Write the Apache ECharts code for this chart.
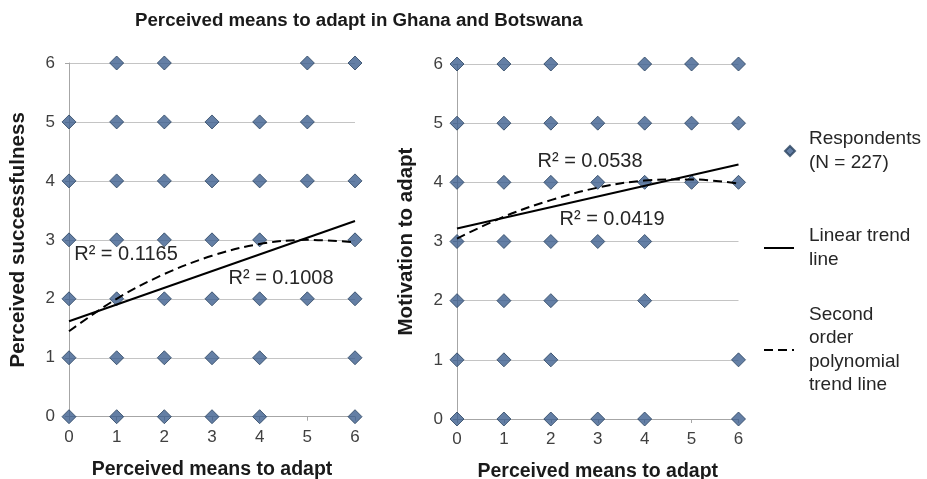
<!DOCTYPE html>
<html>
<head>
<meta charset="utf-8">
<script src="https://cdn.jsdelivr.net/npm/echarts@6/dist/echarts.min.js"></script>
<style>
  html, body { margin: 0; padding: 0; background: #ffffff; }
  #chart { width: 927px; height: 479px; }
</style>
</head>
<body>
<div id="chart"></div>
<script>
// Response scale shared by both panels (0 = lowest, 6 = highest)
const scaleTicks = [0, 1, 2, 3, 4, 5, 6];

// Ghana: perceived means to adapt (x) vs perceived successfulness (y)
const ghanaResponses = [
  [1, 6], [2, 6], [5, 6], [6, 6],
  [0, 5], [1, 5], [2, 5], [3, 5], [4, 5], [5, 5],
  [0, 4], [1, 4], [2, 4], [3, 4], [4, 4], [5, 4], [6, 4],
  [0, 3], [1, 3], [2, 3], [3, 3], [4, 3], [6, 3],
  [0, 2], [1, 2], [2, 2], [3, 2], [4, 2], [5, 2], [6, 2],
  [0, 1], [1, 1], [2, 1], [3, 1], [4, 1], [6, 1],
  [0, 0], [1, 0], [2, 0], [3, 0], [4, 0], [6, 0]
];
const ghanaLinear = [[0, 1.62], [6, 3.32]];
const ghanaPoly = [[0, 1.45], [1, 2.0], [2, 2.42], [3, 2.73], [4, 2.93], [5, 3.0], [6, 2.96]];
const ghanaR2 = { linear: 'R² = 0.1008', poly: 'R² = 0.1165' };

// Botswana: perceived means to adapt (x) vs motivation to adapt (y)
const botswanaResponses = [
  [0, 6], [1, 6], [2, 6], [4, 6], [5, 6], [6, 6],
  [0, 5], [1, 5], [2, 5], [3, 5], [4, 5], [5, 5], [6, 5],
  [0, 4], [1, 4], [2, 4], [3, 4], [4, 4], [5, 4], [6, 4],
  [0, 3], [1, 3], [2, 3], [3, 3], [4, 3],
  [0, 2], [1, 2], [2, 2], [4, 2],
  [0, 1], [1, 1], [2, 1], [6, 1],
  [0, 0], [1, 0], [2, 0], [3, 0], [4, 0], [6, 0]
];
const botswanaLinear = [[0, 3.22], [6, 4.3]];
const botswanaPoly = [[0, 3.05], [1, 3.42], [2, 3.7], [3, 3.91], [4, 4.03], [5, 4.05], [6, 3.98]];
const botswanaR2 = { linear: 'R² = 0.0419', poly: 'R² = 0.0538' };

const NAME_POINTS = 'Respondents (N = 227)';
const NAME_LINEAR = 'Linear trend line';
const NAME_POLY = 'Second order polynomial trend line';

const FONT = '"Liberation Sans", Arial, Helvetica, sans-serif';
const MARKER_FILL = '#3d5f8f';
const MARKER_EDGE = '#29425f';
const GRID_GRAY = '#c4c4c4';
const AXIS_GRAY = '#a6a6a6';

function xAxisFor(gridIndex, nameGap) {
  return {
    gridIndex, type: 'value', min: 0, max: 6, interval: 1,
    name: 'Perceived means to adapt', nameLocation: 'middle', nameGap,
    nameTextStyle: { fontFamily: FONT, fontSize: 19.5, fontWeight: 'bold', color: '#1a1a1a' },
    axisLine: { show: true, onZero: false, lineStyle: { color: AXIS_GRAY, width: 1 } },
    axisTick: { show: true, length: 4, lineStyle: { color: AXIS_GRAY } },
    axisLabel: { fontFamily: FONT, fontSize: 17, color: '#404040', margin: 12,
      formatter: v => scaleTicks.includes(v) ? String(v) : '' },
    splitLine: { show: false }
  };
}

function yAxisFor(gridIndex, name, nameGap) {
  return {
    gridIndex, type: 'value', min: 0, max: 6, interval: 1,
    name, nameLocation: 'middle', nameGap, nameRotate: 90,
    nameTextStyle: { fontFamily: FONT, fontSize: 20.5, fontWeight: 'bold', color: '#1a1a1a' },
    axisLine: { show: true, onZero: false, lineStyle: { color: AXIS_GRAY, width: 1 } },
    axisTick: { show: true, length: 4, lineStyle: { color: AXIS_GRAY } },
    axisLabel: { fontFamily: FONT, fontSize: 17, color: '#404040', margin: 14 },
    splitLine: { show: true, lineStyle: { color: GRID_GRAY, width: 1 } }
  };
}

function scatterSeries(idx, data) {
  return {
    name: NAME_POINTS, type: 'scatter', xAxisIndex: idx, yAxisIndex: idx,
    data, symbol: 'diamond', symbolSize: 14, clip: false, z: 2,
    itemStyle: { color: MARKER_FILL, borderColor: MARKER_EDGE, borderWidth: 1 },
    emphasis: { disabled: true }
  };
}

function trendSeries(idx, name, data, dashed) {
  return {
    name, type: 'line', xAxisIndex: idx, yAxisIndex: idx,
    data, smooth: dashed ? 0.35 : false, symbol: 'none', z: 3, clip: false,
    lineStyle: { color: '#000000', width: 2, type: dashed ? [9, 5] : 'solid' },
    itemStyle: { color: '#000000' },
    emphasis: { disabled: true }
  };
}

function legendEntry(name, lines, left, iconCenterY, itemWidth, itemHeight, padLeft, hideSymbol) {
  const lh = 23.5;
  const padTop = (lines.length - 1) * lh;
  const boxH = padTop + lines.length * lh;
  const entry = {
    data: [name], left, top: iconCenterY - boxH / 2, orient: 'vertical',
    padding: 0, itemWidth, itemHeight, selectedMode: false,
    formatter: () => lines.join('\n'),
    textStyle: { fontFamily: FONT, fontSize: 19, color: '#262626', lineHeight: lh,
      padding: [padTop, 0, 0, padLeft] }
  };
  if (hideSymbol) {
    entry.itemStyle = { color: 'rgba(0,0,0,0)', borderColor: 'rgba(0,0,0,0)', borderWidth: 0 };
  }
  return entry;
}

function r2Label(x, y, text) {
  return {
    type: 'text', x, y, z: 10,
    style: { text, fontFamily: FONT, fontSize: 20, fill: '#262626', align: 'center', verticalAlign: 'middle' }
  };
}

const chart = echarts.init(document.getElementById('chart'), null, { renderer: 'canvas' });
chart.setOption({
  backgroundColor: '#ffffff',
  animation: false,
  title: {
    text: 'Perceived means to adapt in Ghana and Botswana',
    left: 135, top: 11, padding: 0,
    textStyle: { fontFamily: FONT, fontSize: 18.7, fontWeight: 'bold', color: '#1a1a1a' }
  },
  grid: [
    { left: 69, top: 63, width: 286, height: 353.7, outerBoundsMode: 'none' },
    { left: 457, top: 64, width: 281.5, height: 355, outerBoundsMode: 'none' }
  ],
  xAxis: [xAxisFor(0, 43), xAxisFor(1, 43)],
  yAxis: [
    yAxisFor(0, 'Perceived successfulness', 40),
    yAxisFor(1, 'Motivation to adapt', 40)
  ],
  legend: [
    legendEntry(NAME_POINTS, ['Respondents', '(N = 227)'], 784, 151, 10, 10, 9, false),
    legendEntry(NAME_LINEAR, ['Linear trend', 'line'], 763, 248, 30, 10, 10, true),
    legendEntry(NAME_POLY, ['Second', 'order', 'polynomial', 'trend line'], 763, 350, 30, 10, 10, true)
  ],
  series: [
    scatterSeries(0, ghanaResponses),
    trendSeries(0, NAME_LINEAR, ghanaLinear, false),
    trendSeries(0, NAME_POLY, ghanaPoly, true),
    scatterSeries(1, botswanaResponses),
    trendSeries(1, NAME_LINEAR, botswanaLinear, false),
    trendSeries(1, NAME_POLY, botswanaPoly, true)
  ],
  graphic: [
    r2Label(126, 254, ghanaR2.poly),
    r2Label(281, 278, ghanaR2.linear),
    r2Label(590, 161, botswanaR2.poly),
    r2Label(612, 219, botswanaR2.linear)
  ]
});
</script>
</body>
</html>
